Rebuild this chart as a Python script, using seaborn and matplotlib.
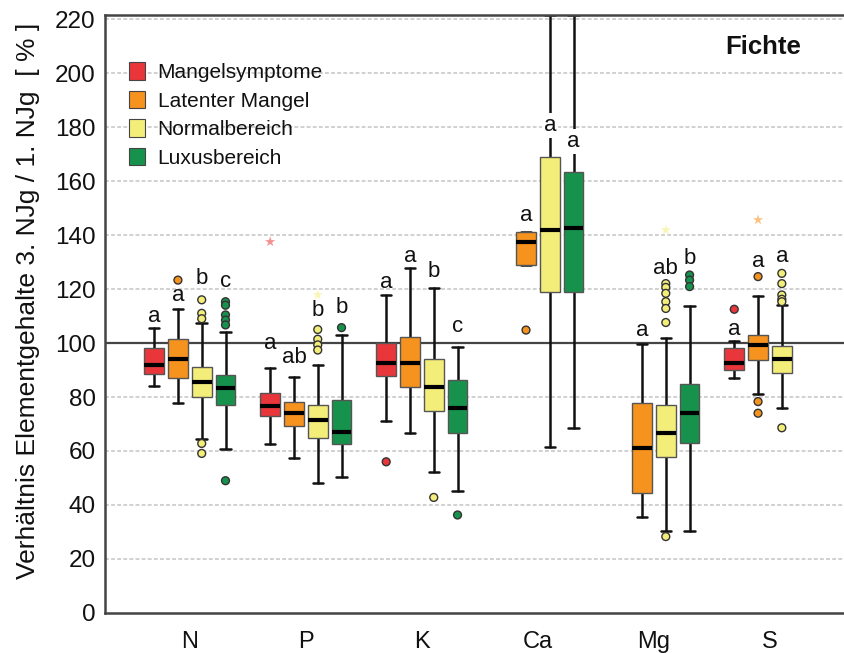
import matplotlib
matplotlib.use('Agg')
import matplotlib.pyplot as plt
from matplotlib.patches import Patch
import numpy as np
import pandas as pd
import seaborn as sns

elements = ['N', 'P', 'K', 'Ca', 'Mg', 'S']
groups = ['Mangelsymptome', 'Latenter Mangel', 'Normalbereich', 'Luxusbereich']
colors = ['#e8363b', '#f6921e', '#f3ee7a', '#17924c']

# box statistics, one row per element, one column per group (None = no data)
whis_lo = [[84, 77.7, 64.5, 60.7], [62.6, 57.3, 48.3, 50.5], [71.2, 66.5, 52.3, 45.3],
           [None, 129, 61.4, 68.6], [None, 35.4, 30.5, 30.5], [86.9, 81, 76, None]]
q1 = [[88.5, 87, 80.1, 77], [73, 69.3, 64.7, 62.5], [87.8, 83.6, 74.8, 66.5],
      [None, 129, 118.8, 118.8], [None, 44.3, 57.9, 62.8], [90, 93.7, 88.8, None]]
med = [[91.8, 94, 85.7, 83.2], [76.7, 74, 71.5, 67.2], [92.7, 92.5, 83.8, 75.9],
       [None, 137.5, 141.9, 142.7], [None, 61.2, 66.8, 74.2], [92.5, 99.3, 94, None]]
q3 = [[98, 101.4, 91.2, 88.1], [81.4, 78.3, 77, 78.9], [99.9, 102.1, 94.2, 86.3],
      [None, 141.2, 169, 163.5], [None, 77.9, 77, 85], [98, 103, 98.9, None]]
whis_hi = [[105.7, 112.6, 107.5, 104.2], [90.6, 87.5, 91.8, 103], [117.8, 127.7, 120.3, 98.4],
           [None, 141.2, 221.5, 221.5], [None, 99.6, 102, 113.8], [100.9, 117.5, 114, None]]

# outliers (circles) and extremes (stars)
fliers = [
    [[], [123.3], [116, 111, 109, 62.8, 59.1], [115.3, 114, 110.4, 108.5, 106.7, 49]],
    [[], [], [105, 101.4, 99.3, 97.4], [105.7]],
    [[56], [], [42.8], [36.3]],
    [[], [104.8], [], []],
    [[], [], [122, 120.6, 118.4, 115.3, 112.8, 107.6, 28.3], [125.2, 123.3, 120.9]],
    [[112.5], [124.6, 78.3, 74], [125.8, 122, 117.8, 116.2, 115.3, 68.6], []],
]
extremes = [
    [[], [], [], []],
    [[137.5], [], [117.8], []],
    [[], [], [], []],
    [[], [], [], []],
    [[], [], [141.9], []],
    [[], [145.6], [], []],
]

# significance letters and the height of their centre
letters = [['a', 'a', 'b', 'c'], ['a', 'ab', 'b', 'b'], ['a', 'a', 'b', 'c'],
           ['', 'a', 'a', 'a'], ['', 'a', 'ab', 'b'], ['a', 'a', 'a', '']]
letter_y = [[109.7, 117.5, 124, 122.7], [99.9, 94.7, 112, 113], [122.3, 132.2, 126.4, 106],
            [None, 147.4, 180.4, 174.6], [None, 104.8, 127.7, 131.4], [105, 130.1, 132, None]]

sns.set_style('white')
plt.rcParams['font.family'] = ['Liberation Sans', 'DejaVu Sans']

fig = plt.figure(figsize=(8.45, 6.53), dpi=100)
ax = fig.add_axes([0.124, 0.0613, 0.876, 0.9157])

step = 0.205
stats, pos, fc = [], [], []
fl_x, fl_y, fl_g = [], [], []
st_x, st_y, st_g = [], [], []
for e in range(len(elements)):
    for g in range(len(groups)):
        x = e + (g - 1.5) * step
        if med[e][g] is not None:
            stats.append(dict(whislo=whis_lo[e][g], q1=q1[e][g], med=med[e][g],
                              q3=q3[e][g], whishi=whis_hi[e][g], fliers=[]))
            pos.append(x)
            fc.append(colors[g])
        for v in fliers[e][g]:
            fl_x.append(x); fl_y.append(v); fl_g.append(groups[g])
        for v in extremes[e][g]:
            st_x.append(x); st_y.append(v); st_g.append(groups[g])

# grid + reference line
for yv in range(20, 221, 20):
    if yv == 100:
        ax.axhline(yv, color='#444444', lw=1.6, zorder=1)
    else:
        ax.axhline(yv, color='#c4c4c4', lw=1.1, ls=(0, (2.5, 1.5)), zorder=0)

bp = ax.bxp(stats, positions=pos, widths=0.17, patch_artist=True, showfliers=False,
            capwidths=0.09,
            boxprops=dict(edgecolor='#555555', linewidth=1.0),
            medianprops=dict(color='black', linewidth=3),
            whiskerprops=dict(color='#111111', linewidth=1.8),
            capprops=dict(color='#111111', linewidth=1.8))
for patch, c in zip(bp['boxes'], fc):
    patch.set_facecolor(c)
for art in bp['boxes']:
    art.set_zorder(3)
for art in bp['medians']:
    art.set_zorder(3.5)

pal = dict(zip(groups, colors))
df_fl = pd.DataFrame({'x': fl_x, 'y': fl_y, 'group': fl_g})
sns.scatterplot(data=df_fl, x='x', y='y', hue='group', palette=pal, s=32,
                edgecolor='#333333', linewidth=1.0, legend=False, ax=ax, zorder=4)
df_st = pd.DataFrame({'x': st_x, 'y': st_y, 'group': st_g})
sns.scatterplot(data=df_st, x='x', y='y', hue='group', palette=pal, s=60, marker='*',
                alpha=0.55, linewidth=0, legend=False, ax=ax, zorder=4)

for e in range(len(elements)):
    for g in range(len(groups)):
        if letters[e][g]:
            x = e + (g - 1.5) * step
            kw = {}
            if whis_hi[e][g] > letter_y[e][g]:
                kw['bbox'] = dict(facecolor='white', edgecolor='none', pad=1.5)
            ax.text(x, letter_y[e][g], letters[e][g], ha='center', va='center',
                    fontsize=16, color='#111111', zorder=5, **kw)

ax.set_xlim(-0.733, 5.647)
ax.set_ylim(0, 221.5)
ax.set_xticks(range(len(elements)))
ax.set_xticklabels(elements, fontsize=17)
ax.set_xticks(np.arange(-0.5, 5.6, 1), minor=True)
ax.set_yticks(range(0, 221, 20))
ax.tick_params(axis='both', labelcolor='#111111')
ax.tick_params(axis='y', labelsize=17.5, length=5, width=1.5, color='#444444', pad=1.5)
ax.tick_params(axis='x', which='major', length=7, width=1.5, color='#444444', pad=6)
ax.tick_params(axis='x', which='minor', length=5, width=1.2, color='#444444')
ax.set_xlabel('')
ax.set_ylabel('Verhältnis Elementgehalte 3. NJg / 1. NJg  [ % ]', fontsize=19, color='#111111')
ax.yaxis.set_label_coords(-0.088, 0.522)

for side in ['left', 'bottom', 'top']:
    ax.spines[side].set_color('#444444')
    ax.spines[side].set_linewidth(1.8)
ax.spines['right'].set_visible(False)

handles = [Patch(facecolor=c, edgecolor='#444444', linewidth=0.8) for c in colors]
ax.legend(handles, groups, loc='upper left', bbox_to_anchor=(0.022, 0.935), frameon=False,
          fontsize=15, handlelength=0.75, handleheight=0.9, handletextpad=0.6,
          labelspacing=0.42, borderaxespad=0, labelcolor='#111111')
ax.text(0.889, 0.946, 'Fichte', transform=ax.transAxes, fontsize=18.5, fontweight='bold',
        ha='center', va='center', color='#111111')

fig.savefig('out.png', dpi=100)
